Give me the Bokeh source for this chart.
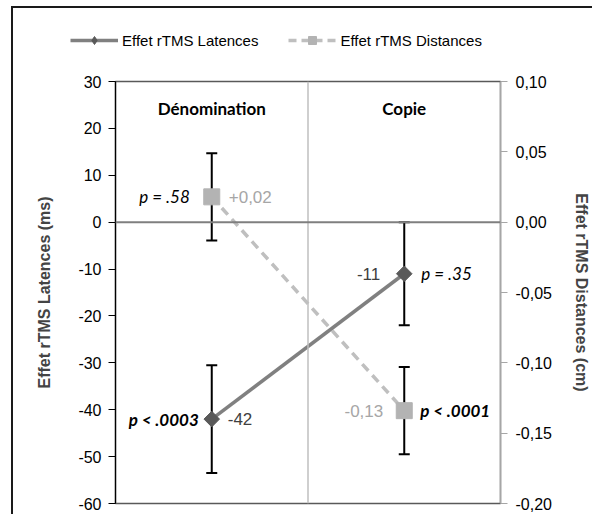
import math
from bokeh.plotting import figure
from bokeh.layouts import column
from bokeh.models import (Range1d, LinearAxis, FixedTicker, CustomJSTickFormatter,
                          Span, Whisker, TeeHead, ColumnDataSource)
from bokeh.core.properties import value
from bokeh.embed import file_html
from bokeh.resources import INLINE

# ---- data ----
categories = ["Dénomination", "Copie"]
cat_x = [0.5, 1.5]
lat_vals = [-42, -11]
lat_err = [11.5, 11]
lat_labels = ["-42", "-11"]
lat_p = ["p < .0003", "p = .35"]
dist_vals = [0.018, -0.134]
dist_err = [0.031, 0.031]
dist_labels = ["+0,02", "-0,13"]
dist_p = ["p = .58", "p < .0001"]
left_ticks = [30, 20, 10, 0, -10, -20, -30, -40, -50, -60]
right_ticks = [0.10, 0.05, 0.0, -0.05, -0.10, -0.15, -0.20]
series_names = ["Effet rTMS Latences", "Effet rTMS Distances"]

SANS = "Liberation Sans"
CAL = "Lato"
LAT_LINE, LAT_MARK = "#808080", "#595959"
DIST_LINE, DIST_MARK = "#bfbfbf", "#b3b3b3"
FRAME = "#1a1a1a"

# ---------- legend strip (top of the picture) ----------
lf = figure(width=592, height=69, output_backend="svg", toolbar_location=None,
            x_range=Range1d(0, 1), y_range=Range1d(0, 1),
            x_axis_location=None, y_axis_location=None,
            min_border_left=0, min_border_right=0, min_border_top=0, min_border_bottom=0)
try:
    lf.frame_align = False
except Exception:
    pass
lf.grid.visible = False
lf.outline_line_color = None
lf.background_fill_color = None
lf.border_fill_color = None
lf.styles = {"background": f"linear-gradient({FRAME}, {FRAME}) 11px 6px / 2px 100% no-repeat, "
                           f"linear-gradient({FRAME}, {FRAME}) 11px 6px / 100% 2px no-repeat, white"}
# legend-only renderers (their single point lies outside the strip's ranges)
off = dict(x=[-10], y=[-10])
lf.line(x=off["x"], y=off["y"], line_color=LAT_LINE, line_width=3.5, legend_label=series_names[0])
lf.scatter(x=off["x"], y=off["y"], marker="diamond", size=15, fill_color=LAT_MARK,
           line_color=LAT_MARK, legend_label=series_names[0])
lf.line(x=off["x"], y=off["y"], line_color=DIST_LINE, line_width=3.5, line_dash="8 5",
        legend_label=series_names[1])
lf.scatter(x=off["x"], y=off["y"], marker="square", size=13, fill_color=DIST_MARK,
           line_color=DIST_MARK, legend_label=series_names[1])
lg = lf.legend[0]
lg.orientation = "horizontal"
lg.location = (70, 19)
lg.border_line_color = None
lg.background_fill_alpha = 0
lg.padding = 0
lg.margin = 0
lg.spacing = 30
lg.glyph_width = 48
lg.glyph_height = 20
lg.label_height = 20
lg.label_standoff = 4
lg.label_text_font = SANS
lg.label_text_font_size = "15px"
lg.label_text_color = "black"

# ---------- main chart ----------
p = figure(width=592, height=445, output_backend="svg", toolbar_location=None,
           x_range=Range1d(0, 2), y_range=Range1d(-60, 30),
           x_axis_location=None, y_axis_location="left",
           min_border_left=115, min_border_right=88, min_border_top=12, min_border_bottom=11)
try:
    p.frame_align = False
except Exception:
    pass
p.extra_y_ranges = {"dist": Range1d(-0.20, 0.10)}
p.grid.visible = False
p.outline_line_color = "#595959"
p.outline_line_width = 1.5
p.background_fill_color = "white"
p.border_fill_color = None
p.styles = {"background": f"linear-gradient({FRAME}, {FRAME}) 11px 0px / 2px 100% no-repeat, white"}

# left axis
ya = p.yaxis[0]
ya.ticker = FixedTicker(ticks=left_ticks)
ya.formatter = CustomJSTickFormatter(code="return tick.toString();")
ya.minor_tick_line_color = None
ya.major_tick_out = 7
ya.major_tick_in = 0
ya.axis_line_color = "black"
ya.major_tick_line_color = "black"
ya.axis_line_width = 1.2
ya.major_label_text_font = SANS
ya.major_label_text_font_size = "16px"
ya.major_label_text_color = "black"
ya.major_label_standoff = 7
ya.axis_label = "Effet rTMS Latences (ms)"
ya.axis_label_text_font = SANS
ya.axis_label_text_font_style = "bold"
ya.axis_label_text_font_size = "16px"
ya.axis_label_standoff = 22

# right axis
ra = LinearAxis(y_range_name="dist", ticker=FixedTicker(ticks=right_ticks),
                formatter=CustomJSTickFormatter(code="return tick.toFixed(2).replace('.', ',');"))
ra.minor_tick_line_color = None
ra.major_tick_out = 7
ra.major_tick_in = 0
ra.axis_line_color = "#a6a6a6"
ra.major_tick_line_color = "#a6a6a6"
ra.axis_line_width = 1.2
ra.major_label_text_font = SANS
ra.major_label_text_font_size = "16px"
ra.major_label_text_color = "black"
ra.major_label_standoff = 8
ra.axis_label = "Effet rTMS Distances (cm)"
ra.axis_label_text_font = SANS
ra.axis_label_text_font_style = "bold"
ra.axis_label_text_font_size = "16px"
ra.axis_label_standoff = 18
p.add_layout(ra, "right")

# divider and zero line
p.add_layout(Span(location=1, dimension="height", line_color="#bfbfbf", line_width=1.5))
p.add_layout(Span(location=0, dimension="width", line_color="#7f7f7f", line_width=2))

# category labels
p.text(x=cat_x, y=[24.2, 24.2], text=categories, text_font=value(CAL), text_font_style="bold",
       text_font_size="17px", text_align="center", text_baseline="middle", text_color="black")

# error bars
lat_src = ColumnDataSource(dict(x=cat_x, y=lat_vals,
                                lo=[v - e for v, e in zip(lat_vals, lat_err)],
                                hi=[v + e for v, e in zip(lat_vals, lat_err)]))
dist_src = ColumnDataSource(dict(x=cat_x, y=dist_vals,
                                 lo=[v - e for v, e in zip(dist_vals, dist_err)],
                                 hi=[v + e for v, e in zip(dist_vals, dist_err)]))
for src, rn in ((lat_src, "default"), (dist_src, "dist")):
    w = Whisker(source=src, base="x", upper="hi", lower="lo", dimension="height",
                y_range_name=rn, line_color="black", line_width=2,
                upper_head=TeeHead(size=11, line_color="black", line_width=2),
                lower_head=TeeHead(size=11, line_color="black", line_width=2))
    p.add_layout(w)

# series
p.line("x", "y", source=dist_src, y_range_name="dist", line_color=DIST_LINE, line_width=3.5,
       line_dash="9 6")
p.line("x", "y", source=lat_src, line_color=LAT_LINE, line_width=3.5)
p.scatter("x", "y", source=lat_src, marker="square", angle=math.pi / 4, size=11,
          fill_color=LAT_MARK, line_color=LAT_MARK)
p.scatter("x", "y", source=dist_src, y_range_name="dist", marker="square", size=16,
          fill_color=DIST_MARK, line_color=DIST_MARK)

# value labels
p.text(x=[cat_x[0]], y=[lat_vals[0]], text=[lat_labels[0]], x_offset=16, text_align="left",
       text_baseline="middle", text_font=value(SANS), text_font_size="17px", text_color="#404040")
p.text(x=[cat_x[1]], y=[lat_vals[1]], text=[lat_labels[1]], x_offset=-24, text_align="right",
       text_baseline="middle", text_font=value(SANS), text_font_size="17px", text_color="#404040")
p.text(x=[cat_x[0]], y=[dist_vals[0]], text=[dist_labels[0]], x_offset=17, text_align="left",
       y_range_name="dist", text_baseline="middle", text_font=value(SANS), text_font_size="17px",
       text_color="#a6a6a6")
p.text(x=[cat_x[1]], y=[dist_vals[1]], text=[dist_labels[1]], x_offset=-21, text_align="right",
       y_range_name="dist", text_baseline="middle", text_font=value(SANS), text_font_size="17px",
       text_color="#a6a6a6")

# p-values
p.text(x=[cat_x[0]], y=[lat_vals[0]], text=[lat_p[0]], x_offset=-13, text_align="right",
       text_baseline="middle", text_font=value(CAL), text_font_style="bold italic",
       text_font_size="17px", text_color="black")
p.text(x=[cat_x[1]], y=[lat_vals[1]], text=[lat_p[1]], x_offset=17, text_align="left",
       text_baseline="middle", text_font=value(CAL), text_font_style="italic",
       text_font_size="17px", text_color="black")
p.text(x=[cat_x[0]], y=[dist_vals[0]], text=[dist_p[0]], x_offset=-22, text_align="right",
       y_range_name="dist", text_baseline="middle", text_font=value(CAL), text_font_style="italic",
       text_font_size="17px", text_color="black")
p.text(x=[cat_x[1]], y=[dist_vals[1]], text=[dist_p[1]], x_offset=16, text_align="left",
       y_range_name="dist", text_baseline="middle", text_font=value(CAL),
       text_font_style="bold italic", text_font_size="17px", text_color="black")

layout = column(lf, p, spacing=0)
open("out.html", "w").write(file_html(layout, INLINE))
